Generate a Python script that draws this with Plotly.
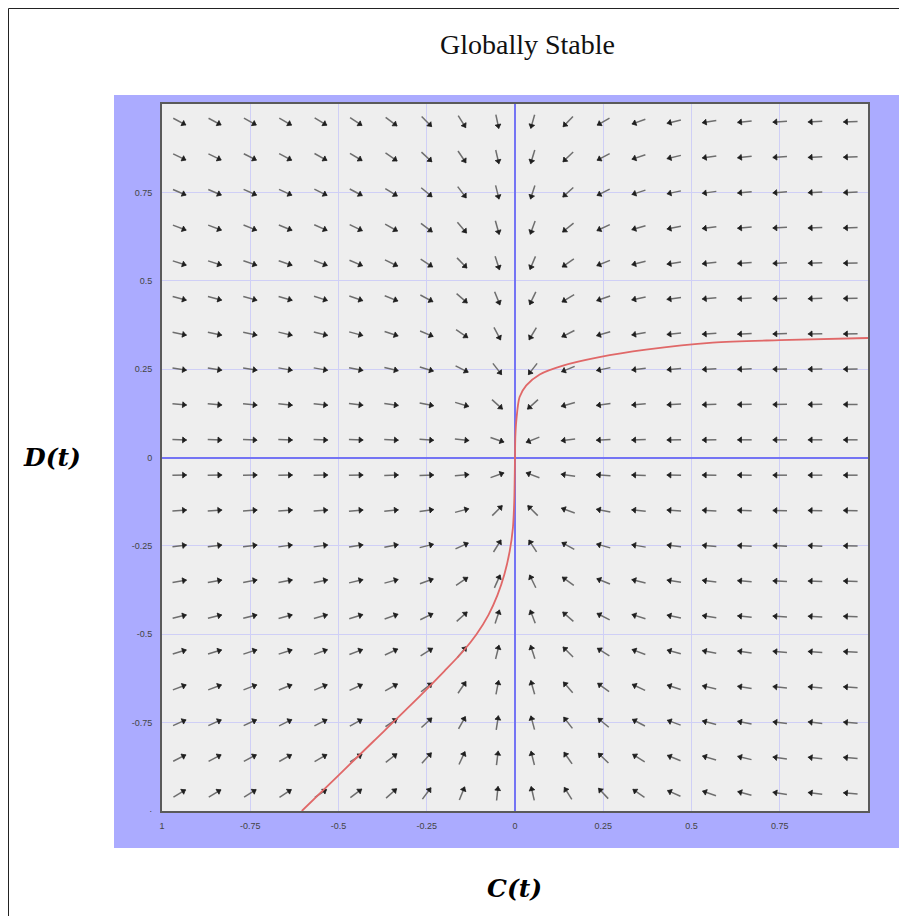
import numpy as np
import plotly.graph_objects as go

# ---------------- data ----------------
C_GRID = [-0.95, -0.85, -0.75, -0.65, -0.55, -0.45, -0.35, -0.25, -0.15, -0.05,
          0.05, 0.15, 0.25, 0.35, 0.45, 0.55, 0.65, 0.75, 0.85, 0.95]
D_GRID = [0.95, 0.85, 0.75, 0.65, 0.55, 0.45, 0.35, 0.25, 0.15, 0.05,
          -0.05, -0.15, -0.25, -0.35, -0.45, -0.55, -0.65, -0.75, -0.85, -0.95]

# direction of each field arrow, degrees (0 = right, 90 = up), rows follow D_GRID, columns C_GRID
DIR_DEG = [
    [-28, -28, -29, -30, -31, -33, -37, -45, -58, -78, 254, 226, 210, 200, 194, 189, 186, 184, 183, 182],
    [-26, -26, -27, -28, -29, -31, -35, -43, -56, -77, 253, 224, 208, 199, 193, 188, 186, 184, 183, 182],
    [-23, -23, -24, -25, -26, -28, -32, -40, -53, -76, 252, 222, 207, 198, 192, 188, 185, 184, 182, 182],
    [-21, -21, -22, -22, -24, -26, -29, -37, -50, -74, 250, 219, 205, 196, 191, 187, 185, 183, 182, 182],
    [-18, -18, -19, -19, -21, -23, -26, -33, -46, -72, 247, 215, 202, 194, 189, 186, 184, 183, 182, 181],
    [-15, -15, -16, -16, -18, -19, -22, -28, -41, -68, 244, 211, 199, 192, 188, 185, 183, 182, 182, 181],
    [-12, -12, -12, -13, -14, -15, -18, -23, -34, -62, 239, 207, 196, 190, 186, 184, 183, 182, 181, 181],
    [-9, -9, -9, -10, -10, -11, -13, -17, -27, -52, 232, 202, 192, 187, 185, 183, 182, 181, 181, 181],
    [-5, -5, -6, -6, -6, -7, -8, -11, -17, -42, 222, 196, 188, 185, 183, 182, 181, 181, 181, 180],
    [-2, -2, -2, -2, -2, -2, -3, -4, -6, -19, 202, 187, 183, 182, 181, 181, 180, 180, 180, 180],
    [1, 1, 1, 1, 1, 1, 2, 2, 5, 20, 159, 172, 176, 178, 179, 179, 179, 180, 180, 180],
    [4, 4, 4, 4, 4, 5, 6, 8, 15, 45, 135, 160, 169, 174, 176, 177, 178, 179, 179, 179],
    [7, 7, 7, 8, 8, 9, 11, 14, 25, 58, 123, 151, 164, 170, 173, 175, 177, 178, 178, 179],
    [10, 10, 11, 11, 12, 13, 15, 20, 34, 66, 116, 144, 158, 166, 171, 173, 175, 177, 178, 178],
    [14, 14, 14, 15, 16, 17, 20, 26, 42, 72, 111, 139, 153, 162, 168, 171, 174, 176, 177, 178],
    [17, 17, 18, 18, 20, 21, 25, 32, 50, 76, 108, 135, 148, 159, 165, 169, 172, 175, 176, 177],
    [21, 21, 21, 22, 23, 25, 29, 38, 56, 79, 106, 131, 144, 155, 162, 167, 171, 174, 175, 176],
    [24, 24, 25, 26, 27, 29, 34, 43, 61, 81, 105, 128, 140, 152, 160, 165, 169, 173, 174, 176],
    [27, 28, 28, 29, 30, 33, 38, 48, 65, 83, 104, 125, 136, 148, 158, 163, 167, 172, 174, 175],
    [31, 31, 32, 33, 34, 37, 42, 53, 68, 84, 103, 122, 133, 145, 156, 161, 165, 171, 173, 175],
]

# red trajectory
CURVE_C = [-0.604, -0.500, -0.400, -0.300, -0.200, -0.147, -0.109, -0.075, -0.050, -0.030,
           -0.015, -0.006, -0.002, 0.0, 0.001, 0.004, 0.013, 0.032, 0.070, 0.136, 0.239,
           0.371, 0.560, 0.750, 1.0]
CURVE_D = [-1.0, -0.899, -0.802, -0.705, -0.604, -0.548, -0.500, -0.445, -0.390, -0.330,
           -0.265, -0.200, -0.120, 0.0, 0.060, 0.107, 0.171, 0.204, 0.235, 0.260, 0.284,
           0.305, 0.325, 0.332, 0.338]

X_TICKS = [-1, -0.75, -0.5, -0.25, 0, 0.25, 0.5, 0.75]
X_TICKTEXT = ["1", "-0.75", "-0.5", "-0.25", "0", "0.25", "0.5", "0.75"]
Y_TICKS = [-1, -0.75, -0.5, -0.25, 0, 0.25, 0.5, 0.75]
Y_TICKTEXT = ["·", "-0.75", "-0.5", "-0.25", "0", "0.25", "0.5", "0.75"]

# ---------------- build arrows ----------------
HALF = 0.0205
HEAD = 0.012
seg_x, seg_y = [], []
hx, hy, hang = [], [], []
for i, d in enumerate(D_GRID):
    for j, c in enumerate(C_GRID):
        deg = DIR_DEG[i][j]
        t = np.radians(deg)
        ux, uy = np.cos(t), np.sin(t)
        seg_x += [c - HALF * ux, c + HALF * ux, None]
        seg_y += [d - HALF * uy, d + HALF * uy, None]
        hx.append(c + HEAD * ux)
        hy.append(d + HEAD * uy)
        hang.append(90 - deg)

fig = go.Figure()
fig.add_trace(go.Scatter(x=seg_x, y=seg_y, mode="lines",
                         line=dict(color="#6e6e6e", width=1.5),
                         hoverinfo="skip", showlegend=False))
fig.add_trace(go.Scatter(x=hx, y=hy, mode="markers",
                         marker=dict(symbol="triangle-up", size=5, angle=hang, color="#1e1e1e",
                                     line=dict(width=0.8, color="#1e1e1e")),
                         hoverinfo="skip", showlegend=False))
fig.add_trace(go.Scatter(x=CURVE_C, y=CURVE_D, mode="lines",
                         line=dict(color="#E06868", width=1.8, shape="spline", smoothing=0.8),
                         hoverinfo="skip", showlegend=False))

# page is drawn with an 8px body offset; positions below are page pixels
OFF = 8
W, H = 907 - OFF, 916 - OFF
ML, MT = 162 - OFF, 104 - OFF
MR = W - (868 - OFF)
MB = H - (811 - OFF)
pw, ph = W - ML - MR, H - MT - MB


def px(x):
    return (x - OFF - ML) / pw


def py(y):
    return (H - MB - (y - OFF)) / ph


shapes = [
    dict(type="rect", xref="paper", yref="paper", x0=px(114), x1=px(910), y0=py(848), y1=py(95),
         fillcolor="#ABABFF", line=dict(width=0), layer="below"),
    dict(type="rect", xref="paper", yref="paper", x0=0, x1=1, y0=0, y1=1,
         fillcolor="#EEEEEE", line=dict(width=0), layer="below"),
    dict(type="rect", xref="paper", yref="paper", x0=px(8.5), x1=px(906), y0=py(930), y1=py(8.5),
         fillcolor="rgba(0,0,0,0)", line=dict(color="#222222", width=1), layer="above"),
]

annotations = [
    dict(text="Globally Stable", x=px(527.5), y=py(45), xref="paper", yref="paper",
         showarrow=False, font=dict(family="Liberation Serif", size=28, color="#111111"),
         xanchor="center", yanchor="middle"),
    dict(text="<b><i>D(t)</i></b>", x=px(52), y=py(457), xref="paper", yref="paper",
         showarrow=False, font=dict(family="DejaVu Serif", size=25, color="#000000"),
         xanchor="center", yanchor="middle"),
    dict(text="<b><i>C(t)</i></b>", x=px(514), y=py(888), xref="paper", yref="paper",
         showarrow=False, font=dict(family="DejaVu Serif", size=25, color="#000000"),
         xanchor="center", yanchor="middle"),
]

axis_common = dict(
    showgrid=True, gridcolor="#CFCFF6", gridwidth=1,
    zeroline=True, zerolinecolor="#7474F4", zerolinewidth=2,
    showline=True, mirror=True, linecolor="#5a5a5a", linewidth=2,
    ticks="outside", tickcolor="rgba(0,0,0,0)",
    tickfont=dict(family="Liberation Sans", size=9, color="#444444"),
    fixedrange=True,
)

fig.update_layout(
    width=W, height=H,
    margin=dict(l=ML, r=MR, t=MT, b=MB, pad=0),
    paper_bgcolor="white", plot_bgcolor="rgba(0,0,0,0)",
    showlegend=False,
    shapes=shapes, annotations=annotations,
    xaxis=dict(range=[-1, 1], tickvals=X_TICKS, ticktext=X_TICKTEXT, ticklen=5, **axis_common),
    yaxis=dict(range=[-1, 1], tickvals=Y_TICKS, ticktext=Y_TICKTEXT, ticklen=6, **axis_common),
)

fig.write_html("out.html")
